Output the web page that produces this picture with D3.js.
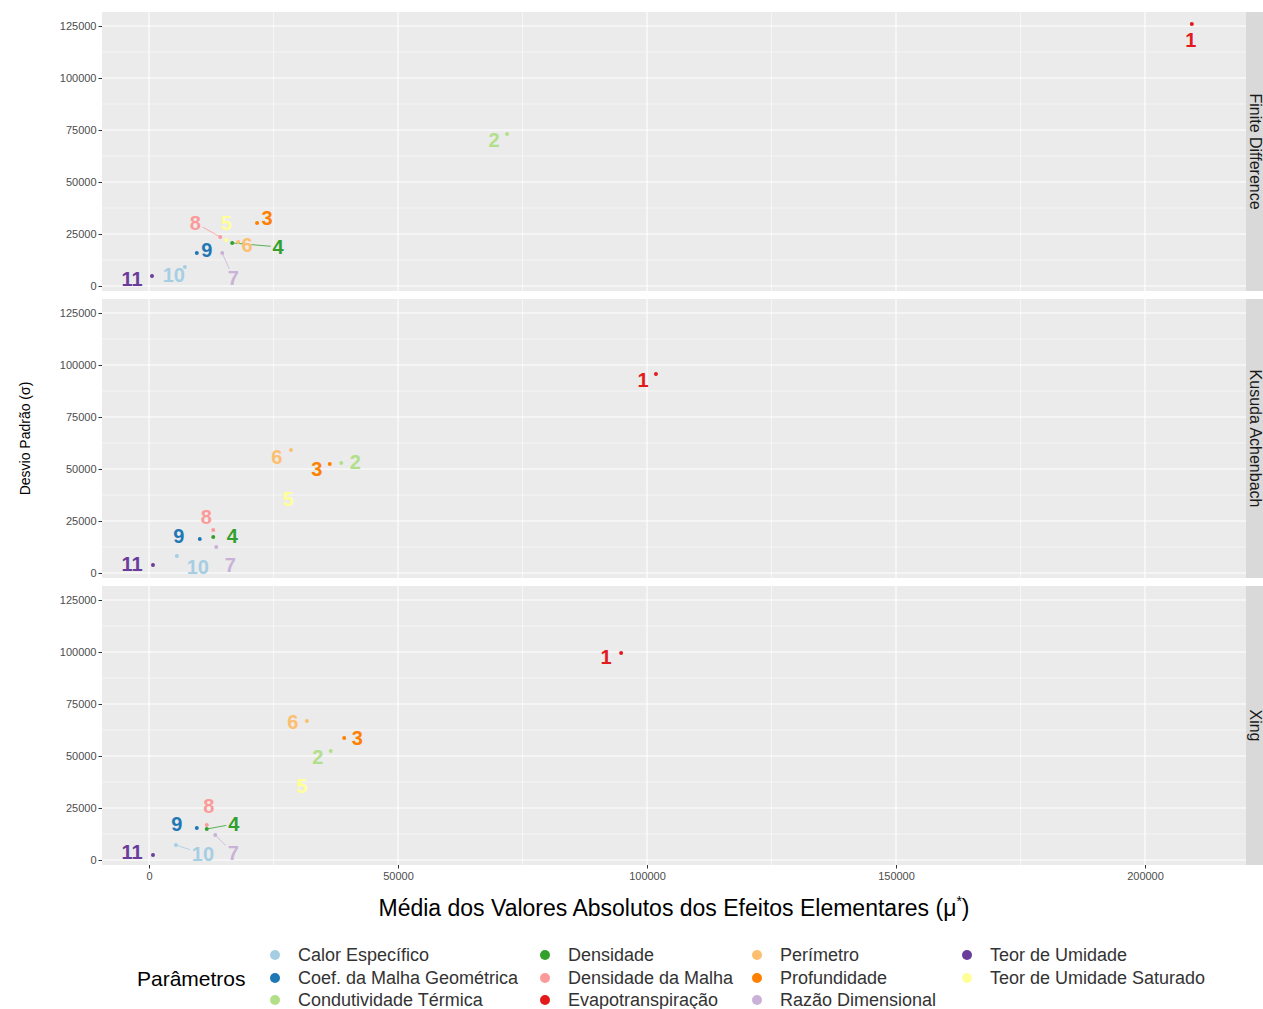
<!DOCTYPE html>
<html>
<head>
<meta charset="utf-8">
<script src="https://cdn.jsdelivr.net/npm/d3@7"></script>
<style>
    body { margin: 0; background: #fff; }
    svg { font-family: "Liberation Sans", Arial, sans-serif; }
    .grid-major { stroke: #fff; stroke-width: 1.1; }
    .grid-minor { stroke: #fff; stroke-width: 0.55; }
</style>
</head>
<body>
<svg width="1263" height="1009"></svg>
<script>

    // facets
    var facets = ["Finite Difference", "Kusuda Achenbach", "Xing"];

    // parameter names, legend order
    var params = ["Calor Específico", "Coef. da Malha Geométrica", "Condutividade Térmica",
        "Densidade", "Densidade da Malha", "Evapotranspiração",
        "Perímetro", "Profundidade", "Razão Dimensional",
        "Teor de Umidade", "Teor de Umidade Saturado"];

    // label number 1..11 -> parameter
    var rankParam = ["Evapotranspiração", "Condutividade Térmica", "Profundidade", "Densidade",
        "Teor de Umidade Saturado", "Perímetro", "Razão Dimensional", "Densidade da Malha",
        "Coef. da Malha Geométrica", "Calor Específico", "Teor de Umidade"];

    // mu* and sigma per facet, indexed by label number 1..11
    var muFD = [209400, 71900, 21700, 16700, 15500, 17900, 14700, 14300, 9600, 7200, 600];
    var sigmaFD = [126000, 73100, 30300, 20700, 22100, 21200, 15900, 23600, 15900, 9100, 4800];
    var muKA = [101800, 38600, 36300, 12900, 27500, 28500, 13500, 12900, 10200, 5600, 800];
    var sigmaKA = [95700, 52900, 52400, 17300, 38000, 59100, 12500, 20700, 16300, 8200, 3800];
    var muXing = [94800, 36500, 39200, 11600, 30300, 31700, 13300, 11600, 9600, 5400, 800];
    var sigmaXing = [99500, 52400, 58700, 14900, 37000, 66800, 12000, 16800, 15400, 7200, 2400];

    var xTicks = [0, 50000, 100000, 150000, 200000];
    var yTicks = [0, 25000, 50000, 75000, 100000, 125000];

    // label placement (pixel nudges, repel-like layout)
    var nudgeFD = [[-1, 16], [-13, 6], [10, -5], [46, 4], [0, -17], [9, 3], [11, 25], [-25, -14], [10, -3], [-11, 8], [-20, 3]];
    var nudgeKA = [[-13, 6], [14, -1], [-13, 5], [19, -1], [2, 5], [-14, 7], [14, 18], [-7, -13], [-21, -3], [21, 11], [-21, -1]];
    var nudgeXing = [[-15, 4], [-13, 6], [13, 0], [27, -5], [2, 3], [-14, 1], [18, 18], [2, -19], [-20, -4], [27, 9], [-21, -3]];

    var panels = [
        { name: facets[0], mu: muFD, sigma: sigmaFD, nudge: nudgeFD },
        { name: facets[1], mu: muKA, sigma: sigmaKA, nudge: nudgeKA },
        { name: facets[2], mu: muXing, sigma: sigmaXing, nudge: nudgeXing }
    ];

    var svg = d3.select("svg");
    var left = 102, right = 1246, panelH = 279, panelTop = 12, panelStep = 287, stripW = 30;

    var color = d3.scaleOrdinal().domain(params).range(d3.schemePaired);

    var x = d3.scaleLinear().domain([-9438, 220281]).range([left, right]);

    function styleTicks(sel) {
        sel.select(".domain").remove();
        sel.selectAll(".tick line").attr("stroke", "#333");
        sel.selectAll(".tick text").attr("fill", null)
            .style("font-family", "Liberation Sans, Arial, sans-serif")
            .style("font-size", "11px").style("fill", "#4d4d4d");
    }

    panels.forEach(function (p, i) {
        var top = panelTop + i * panelStep;
        var y = d3.scaleLinear().domain([-2404, 131731]).range([top + panelH, top]);

        var g = svg.append("g");
        g.append("rect")
            .attr("x", left).attr("y", top)
            .attr("width", right - left).attr("height", panelH)
            .attr("fill", "#ebebeb");

        // minor grid
        var xMinor = [25000, 75000, 125000, 175000];
        var yMinor = [12500, 37500, 62500, 87500, 112500];
        g.selectAll(".xmin").data(xMinor).enter().append("line")
            .attr("class", "grid-minor")
            .attr("x1", function (d) { return x(d); }).attr("x2", function (d) { return x(d); })
            .attr("y1", top).attr("y2", top + panelH);
        g.selectAll(".ymin").data(yMinor).enter().append("line")
            .attr("class", "grid-minor")
            .attr("y1", function (d) { return y(d); }).attr("y2", function (d) { return y(d); })
            .attr("x1", left).attr("x2", right);
        // major grid
        g.selectAll(".xmaj").data(xTicks).enter().append("line")
            .attr("class", "grid-major")
            .attr("x1", function (d) { return x(d); }).attr("x2", function (d) { return x(d); })
            .attr("y1", top).attr("y2", top + panelH);
        g.selectAll(".ymaj").data(yTicks).enter().append("line")
            .attr("class", "grid-major")
            .attr("y1", function (d) { return y(d); }).attr("y2", function (d) { return y(d); })
            .attr("x1", left).attr("x2", right);

        // y axis
        var yAxis = d3.axisLeft(y).tickValues(yTicks).tickSize(3.5).tickPadding(2).tickFormat(d3.format("d"));
        g.append("g").attr("transform", "translate(" + left + ",0)").call(yAxis).call(styleTicks);

        // strip
        g.append("rect")
            .attr("x", right).attr("y", top)
            .attr("width", stripW).attr("height", panelH)
            .attr("fill", "#d9d9d9");
        g.append("text")
            .attr("transform", "translate(" + (right + 4) + "," + (top + panelH / 2) + ") rotate(90)")
            .attr("text-anchor", "middle")
            .attr("fill", "#1a1a1a")
            .style("font-size", "16px")
            .text(p.name);

        var pts = rankParam.map(function (name, k) {
            return { name: name, rank: k + 1, mu: p.mu[k], sigma: p.sigma[k], nudge: p.nudge[k] };
        });

        // segments from point to label box edge (only when the label sits far away)
        pts.forEach(function (d) {
            var px = x(d.mu), py = y(d.sigma);
            var dx = d.nudge[0], dy = d.nudge[1];
            var hw = (String(d.rank).length * 11) / 2 + 2, hh = 9;
            var t = Math.min(dx !== 0 ? Math.abs(hw / dx) : Infinity, dy !== 0 ? Math.abs(hh / dy) : Infinity);
            if (t < 1) {
                var ex = px + dx * (1 - t), ey = py + dy * (1 - t);
                var len = Math.hypot(ex - px, ey - py);
                if (len > 14) {
                    g.append("line")
                        .attr("x1", px).attr("y1", py).attr("x2", ex).attr("y2", ey)
                        .attr("stroke", color(d.name)).attr("stroke-width", 0.8);
                }
            }
        });

        g.selectAll(".pt").data(pts).enter().append("circle")
            .attr("cx", function (d) { return x(d.mu); })
            .attr("cy", function (d) { return y(d.sigma); })
            .attr("r", 2)
            .attr("fill", function (d) { return color(d.name); });

        g.selectAll(".lab").data(pts).enter().append("text")
            .attr("x", function (d) { return x(d.mu) + d.nudge[0]; })
            .attr("y", function (d) { return y(d.sigma) + d.nudge[1]; })
            .attr("dy", "0.36em")
            .attr("text-anchor", "middle")
            .attr("fill", function (d) { return color(d.name); })
            .style("font-size", "20px")
            .style("font-weight", "bold")
            .text(function (d) { return d.rank; });
    });

    // x axis under last panel
    var bottom = panelTop + 2 * panelStep + panelH;
    var xAxis = d3.axisBottom(x).tickValues(xTicks).tickSize(3.5).tickPadding(4).tickFormat(d3.format("d"));
    svg.append("g").attr("transform", "translate(0," + bottom + ")").call(xAxis).call(styleTicks);

    // axis titles
    var xt = svg.append("text")
        .attr("x", (left + right) / 2).attr("y", 916)
        .attr("text-anchor", "middle")
        .attr("fill", "#000")
        .style("font-size", "23px");
    xt.append("tspan").text("Média dos Valores Absolutos dos Efeitos Elementares (μ");
    xt.append("tspan").attr("dy", -10).style("font-size", "14px").text("*");
    xt.append("tspan").attr("dy", 10).text(")");

    svg.append("text")
        .attr("transform", "translate(30," + (panelTop + (bottom - panelTop) / 2) + ") rotate(-90)")
        .attr("text-anchor", "middle")
        .attr("fill", "#000")
        .style("font-size", "14px")
        .text("Desvio Padrão (σ)");

    // legend
    svg.append("text")
        .attr("x", 137).attr("y", 986)
        .attr("fill", "#000")
        .style("font-size", "21px")
        .text("Parâmetros");

    var colX = [275, 545, 757, 967], rowY = [955, 978, 1000];
    var leg = svg.selectAll(".leg").data(params).enter().append("g")
        .attr("transform", function (d, i) {
            return "translate(" + colX[Math.floor(i / 3)] + "," + rowY[i % 3] + ")";
        });
    leg.append("circle").attr("r", 5).attr("fill", function (d) { return color(d); });
    leg.append("text")
        .attr("x", 23).attr("dy", "0.36em")
        .attr("fill", "#333")
        .style("font-size", "18px")
        .text(function (d) { return d; });

</script>
</body>
</html>
